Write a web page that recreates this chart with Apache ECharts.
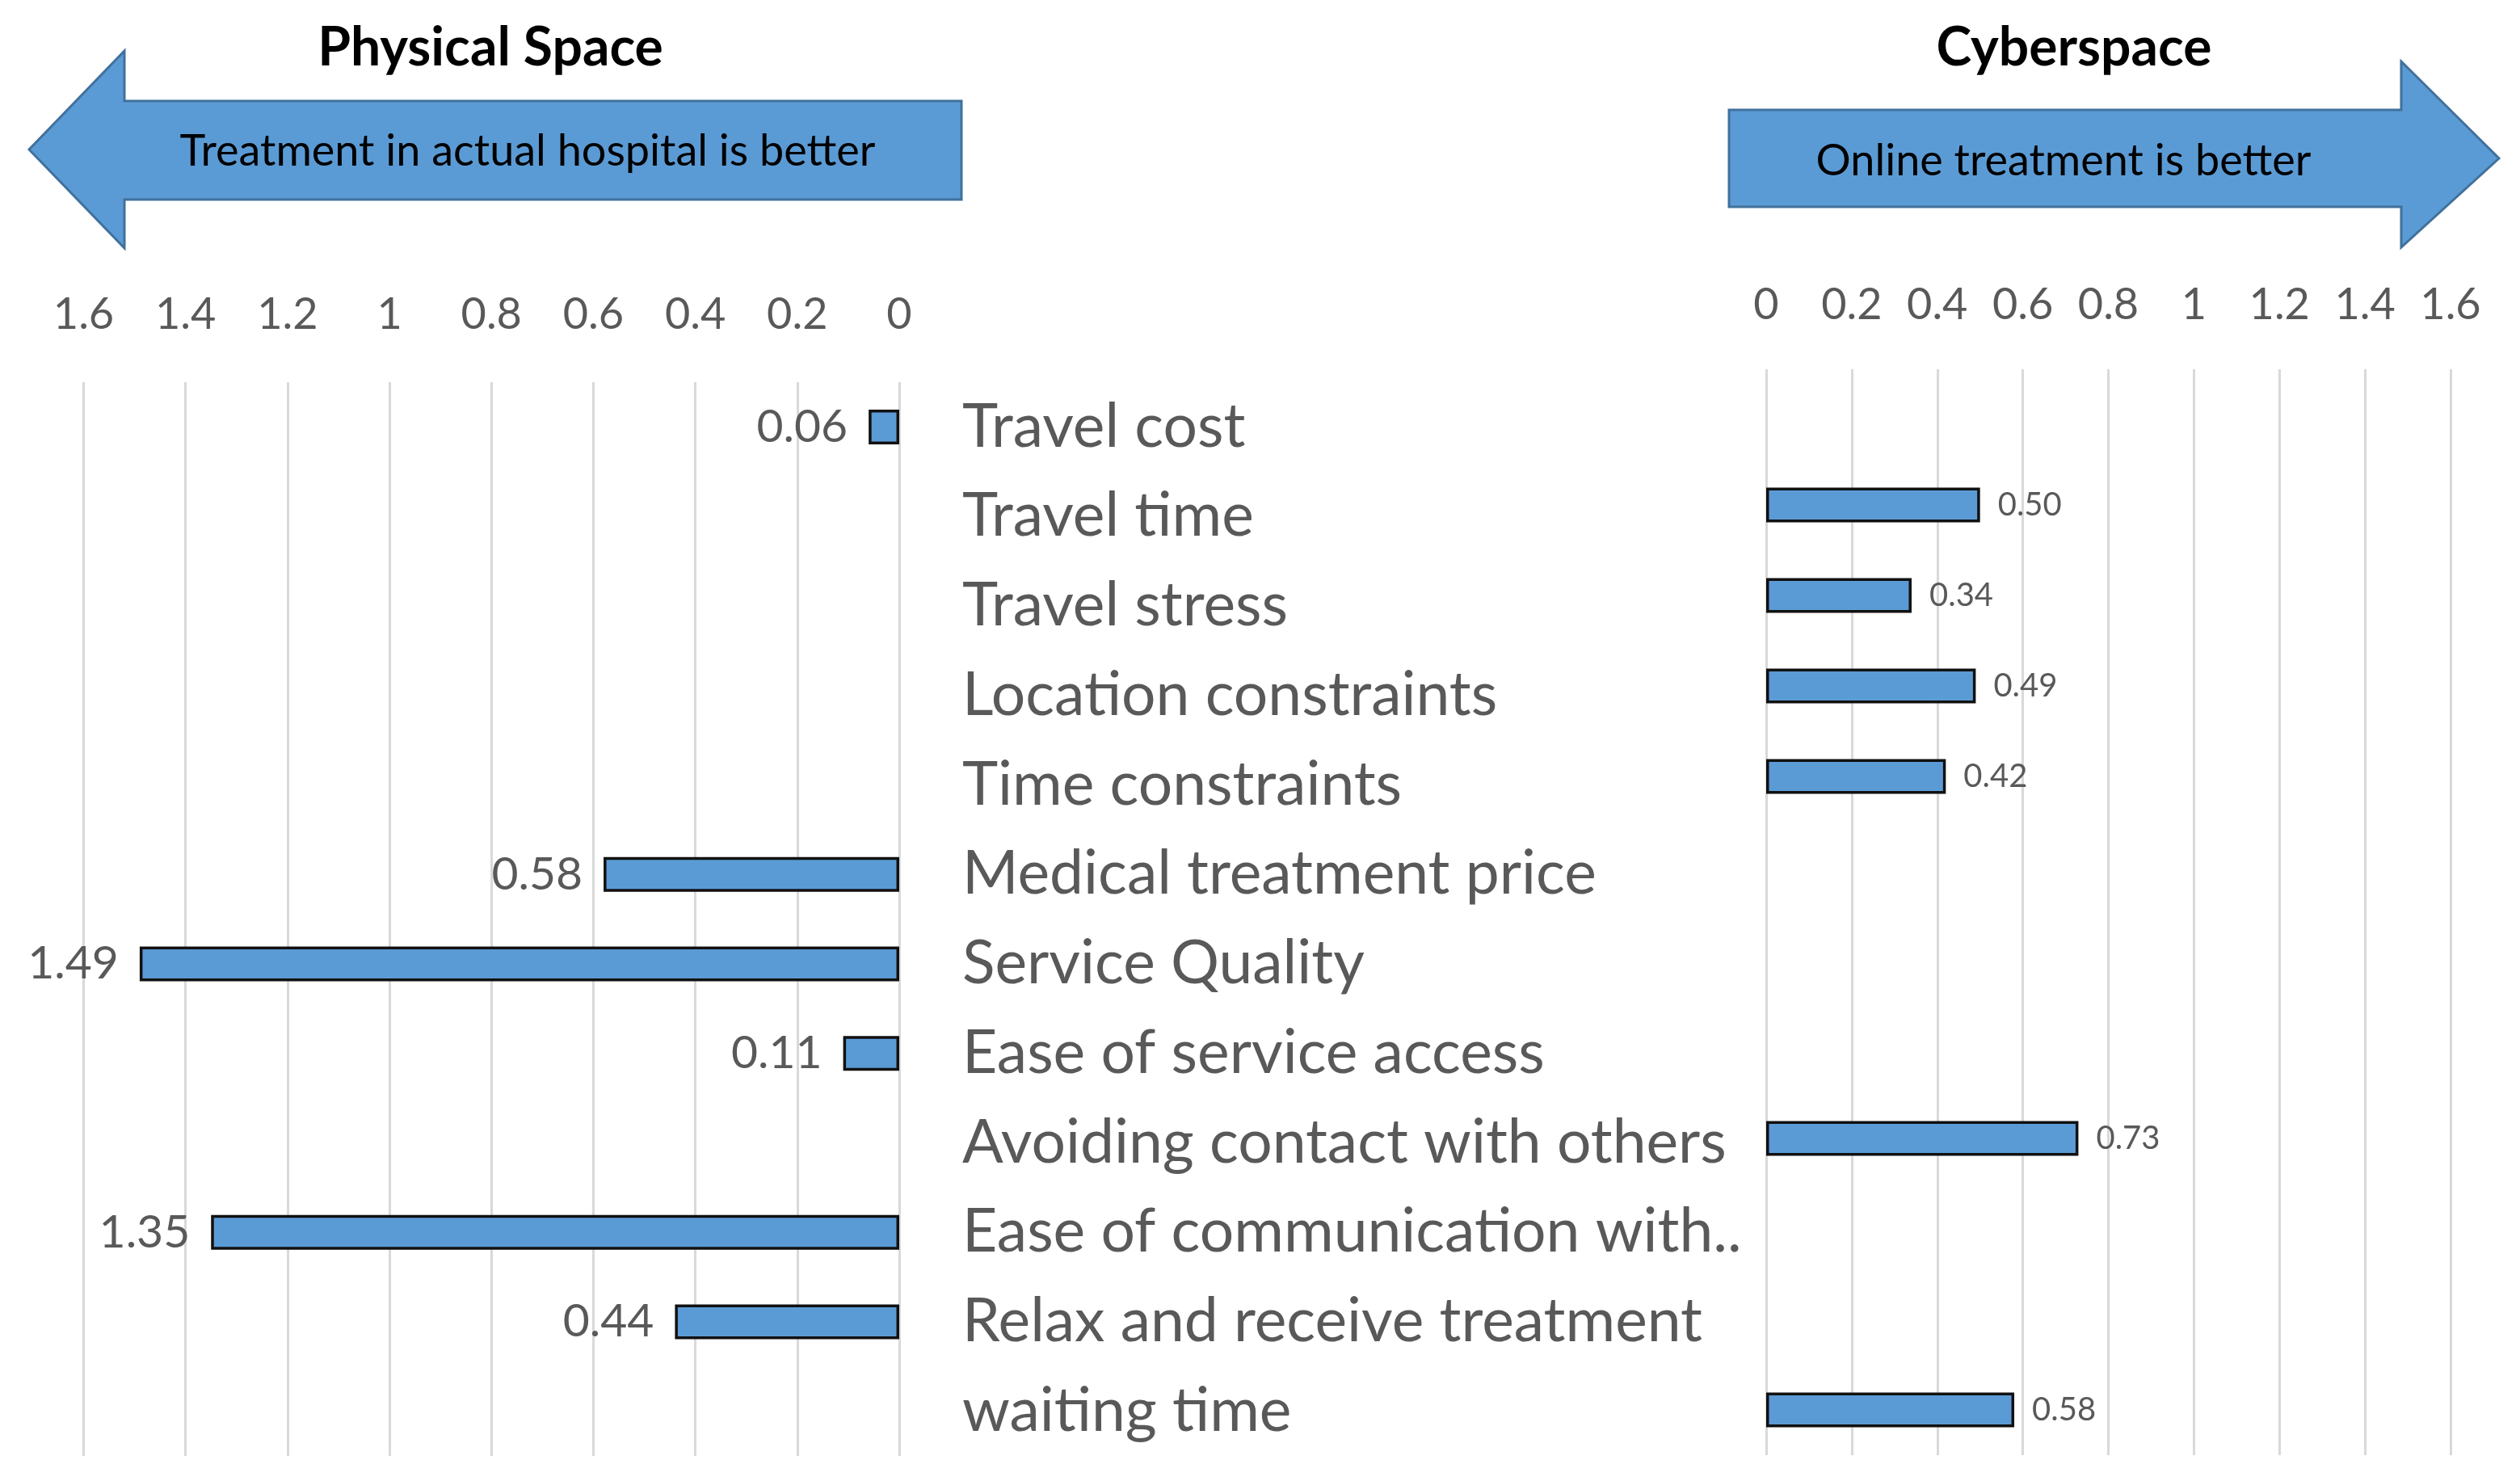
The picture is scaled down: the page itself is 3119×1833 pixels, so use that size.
<!DOCTYPE html>
<html>
<head>
<meta charset="utf-8">
<script src="https://cdn.jsdelivr.net/npm/echarts@6/dist/echarts.min.js"></script>
<style>
html,body{margin:0;padding:0;background:#fff;}
#chart{width:3119px;height:1833px;}
</style>
</head>
<body>
<div id="chart"></div>
<script>
const categories = [
  "Travel cost","Travel time","Travel stress","Location constraints","Time constraints",
  "Medical treatment price","Service Quality","Ease of service access",
  "Avoiding contact with others","Ease of communication with..","Relax and receive treatment","waiting time"
];
const physicalValues = [0.06, null, null, null, null, 0.58, 1.49, 0.11, null, 1.35, 0.44, null];
const cyberValues    = [null, 0.50, 0.34, 0.49, 0.42, null, null, null, 0.73, null, null, 0.58];
const axisMin = 0, axisMax = 1.6, axisStep = 0.2;
const leftTitle = "Physical Space", rightTitle = "Cyberspace";
const leftArrowText = "Treatment in actual hospital is better";
const rightArrowText = "Online treatment is better";

const FONT = "Lato";
const GRAY = "#595959";
const BLUE = "#5B9BD5";
const ARROW_STROKE = "#41719C";

const chart = echarts.init(document.getElementById('chart'), null, {renderer:'canvas'});

const option = {
  backgroundColor: '#ffffff',
  animation: false,
  textStyle: {fontFamily: FONT},
  grid: [
    {left: 103.5, top: 473, width: 1009.5, height: 1329, containLabel: false},
    {left: 2186, top: 457, width: 847, height: 1344, containLabel: false}
  ],
  xAxis: [
    {
      gridIndex: 0, type: 'value', position: 'top', inverse: true,
      min: axisMin, max: axisMax, interval: axisStep,
      axisLine: {show: false}, axisTick: {show: false},
      splitLine: {show: true, lineStyle: {color: '#D9D9D9', width: 3}},
      axisLabel: {color: GRAY, fontSize: 54, fontFamily: FONT, margin: 56}
    },
    {
      gridIndex: 1, type: 'value', position: 'top',
      min: axisMin, max: axisMax, interval: axisStep,
      axisLine: {show: false}, axisTick: {show: false},
      splitLine: {show: true, lineStyle: {color: '#D9D9D9', width: 3}},
      axisLabel: {color: GRAY, fontSize: 54, fontFamily: FONT, margin: 52}
    }
  ],
  yAxis: [
    {
      gridIndex: 0, type: 'category', data: categories, inverse: true, position: 'right',
      axisLine: {show: false}, axisTick: {show: false}, splitLine: {show: false},
      axisLabel: {color: GRAY, fontSize: 75, fontFamily: FONT, align: 'left', margin: 78, interval: 0}
    },
    {
      gridIndex: 1, type: 'category', data: categories, inverse: true,
      axisLine: {show: false}, axisTick: {show: false}, splitLine: {show: false},
      axisLabel: {show: false}
    }
  ],
  series: [
    {
      type: 'bar', xAxisIndex: 0, yAxisIndex: 0, data: physicalValues,
      barWidth: 43,
      itemStyle: {color: BLUE, borderColor: '#111', borderWidth: 3.5},
      label: {show: true, position: 'left', distance: 26, color: GRAY, fontSize: 57, fontFamily: FONT,
        formatter: p => (p.value == null ? '' : Number(p.value).toFixed(2))}
    },
    {
      type: 'bar', xAxisIndex: 1, yAxisIndex: 1, data: cyberValues,
      barWidth: 43,
      itemStyle: {color: BLUE, borderColor: '#111', borderWidth: 3.5},
      label: {show: true, position: 'right', distance: 22, color: GRAY, fontSize: 40, fontFamily: FONT,
        formatter: p => (p.value == null ? '' : Number(p.value).toFixed(2))}
    }
  ],
  graphic: [
    {
      type: 'polygon', z: 10,
      shape: {points: [[36,185],[154,63],[154,125],[1190,125],[1190,247],[154,247],[154,307]]},
      style: {fill: BLUE, stroke: ARROW_STROKE, lineWidth: 3}
    },
    {
      type: 'polygon', z: 10,
      shape: {points: [[2140,136],[2972,136],[2972,76],[3093,196],[2972,306],[2972,256],[2140,256]]},
      style: {fill: BLUE, stroke: ARROW_STROKE, lineWidth: 3}
    },
    {
      type: 'text', z: 11, x: 653, y: 188,
      style: {text: leftArrowText, fill: '#000', font: '54px Lato', align: 'center', verticalAlign: 'middle'}
    },
    {
      type: 'text', z: 11, x: 2554, y: 200,
      style: {text: rightArrowText, fill: '#000', font: '54px Lato', align: 'center', verticalAlign: 'middle'}
    },
    {
      type: 'text', z: 11, x: 607, y: 60,
      style: {text: leftTitle, fill: '#000', font: 'bold 66px Lato', align: 'center', verticalAlign: 'middle',
        shadowColor: 'rgba(0,0,0,0.35)', shadowBlur: 5, shadowOffsetX: 2, shadowOffsetY: 3}
    },
    {
      type: 'text', z: 11, x: 2567, y: 60,
      style: {text: rightTitle, fill: '#000', font: 'bold 66px Lato', align: 'center', verticalAlign: 'middle',
        shadowColor: 'rgba(0,0,0,0.35)', shadowBlur: 5, shadowOffsetX: 2, shadowOffsetY: 3}
    }
  ]
};
chart.setOption(option);
</script>
</body>
</html>
